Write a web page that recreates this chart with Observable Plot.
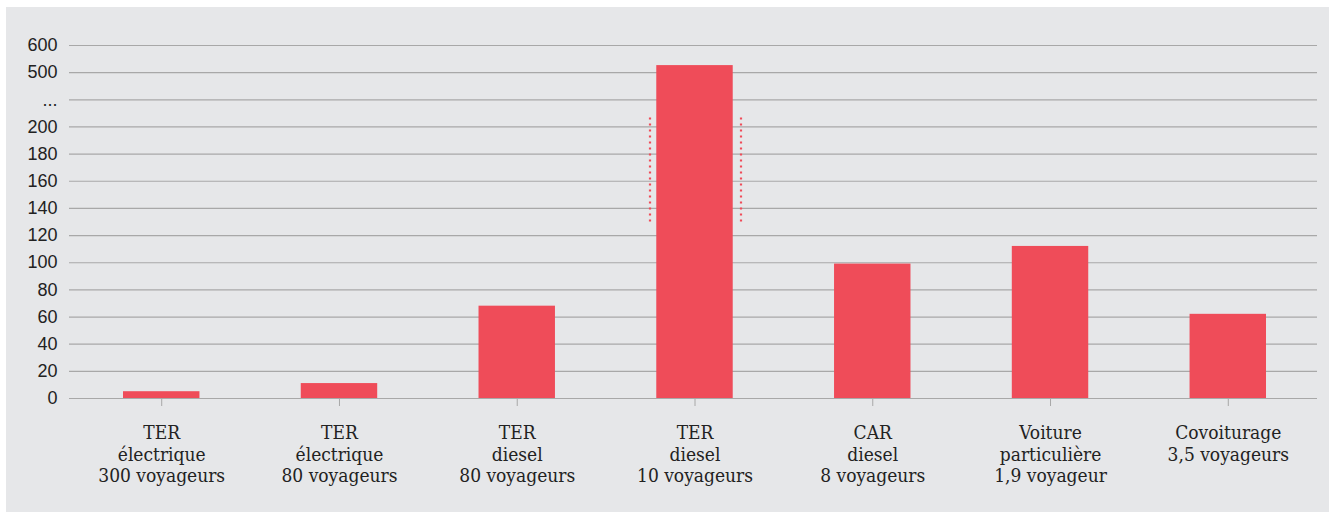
<!DOCTYPE html>
<html>
<head>
<meta charset="utf-8">
<script src="https://cdn.jsdelivr.net/npm/d3@7"></script>
<script src="https://cdn.jsdelivr.net/npm/@observablehq/plot@0.6"></script>
<style>
  html, body { margin: 0; padding: 0; background: #ffffff; }
  #wrap { position: absolute; left: 6px; top: 7px; width: 1323px; height: 505px; background: #e6e7e9; }
  svg { display: block; }
</style>
</head>
<body>
<div id="wrap"></div>
<script>
const categories = [
  "TER\nélectrique\n300 voyageurs",
  "TER\nélectrique\n80 voyageurs",
  "TER\ndiesel\n80 voyageurs",
  "TER\ndiesel\n10 voyageurs",
  "CAR\ndiesel\n8 voyageurs",
  "Voiture\nparticulière\n1,9 voyageur",
  "Covoiturage\n3,5 voyageurs"
];
const values = [5, 11, 68, 526, 99, 112, 62];
const yTicks = [0, 20, 40, 60, 80, 100, 120, 140, 160, 180, 200, 350, 500, 600];
const yTickLabels = ["0", "20", "40", "60", "80", "100", "120", "140", "160", "180", "200", "...", "500", "600"];
// axis break markers around the tallest bar
const breakCategory = categories[3];
const breakFrom = 130, breakTo = 270;

const data = categories.map((c, i) => ({category: c, value: values[i]}));

const W = 1323, H = 505, mL = 63, mR = 12, mT = 38, mB = 114;
const y0 = H - mB, step = (y0 - mT) / 13;

const chart = Plot.plot({
  width: W,
  height: H,
  marginLeft: mL,
  marginRight: mR,
  marginTop: mT,
  marginBottom: mB,
  style: {background: "transparent", overflow: "visible"},
  x: {type: "band", domain: categories, range: [117, 1260], round: false, paddingInner: 0.57, paddingOuter: 0, label: null},
  y: {type: "linear", domain: [0, 200, 500, 600], range: [y0, y0 - 10 * step, y0 - 12 * step, y0 - 13 * step], label: null},
  marks: [
    Plot.ruleY(yTicks, {stroke: "#a8a8a8", strokeWidth: 1.2}),
    Plot.barY(data, {x: "category", y: "value", fill: "#ef4c59"}),
    Plot.ruleX([breakCategory], {y1: breakFrom, y2: breakTo, dx: -45, stroke: "#ef4c59", strokeWidth: 2.2, strokeDasharray: "2,4"}),
    Plot.ruleX([breakCategory], {y1: breakFrom, y2: breakTo, dx: 46, stroke: "#ef4c59", strokeWidth: 2.2, strokeDasharray: "2,4"}),
    Plot.axisY({
      ticks: yTicks,
      tickFormat: (d) => yTickLabels[yTicks.indexOf(d)],
      tickSize: 0,
      tickPadding: 12,
      fontSize: 18,
      fontFamily: "Liberation Sans, Arial, sans-serif",
      fill: "#222"
    }),
    Plot.axisX({
      tickSize: 8,
      tickPadding: 17,
      stroke: "#a8a8a8",
      fontSize: 19,
      fontFamily: "DejaVu Serif Condensed, DejaVu Serif, serif",
      fill: "#222",
      lineHeight: 1.14
    })
  ]
});
document.getElementById("wrap").appendChild(chart);
</script>
</body>
</html>
